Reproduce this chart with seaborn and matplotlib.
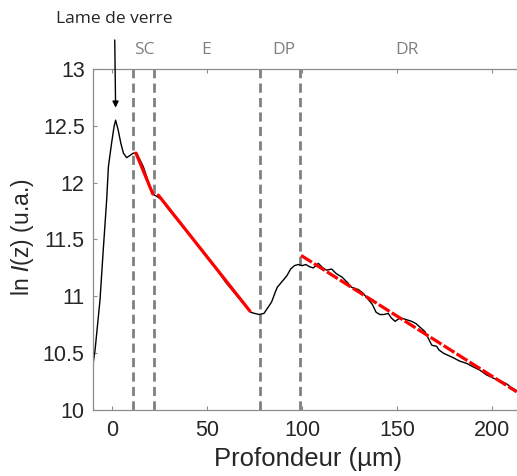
import numpy as np
import pandas as pd
import seaborn as sns
import matplotlib.pyplot as plt
from matplotlib.ticker import FuncFormatter

# Profil ln I(z) en fonction de la profondeur
profondeur = [-10, -8.9, -6.3, -4.6, -2.8, -1.9, -0.2, 1.05, 1.9, 3.3, 4.6, 6, 7.7, 9.5,
              11.2, 13, 16.5, 19.1, 21.4, 23.5, 26.1, 29.6, 35, 40, 45, 50, 55, 60, 65,
              70, 73, 75, 77.5, 80, 82, 84, 86, 87, 89, 90.5, 92, 94, 96, 98, 100, 102,
              104, 106, 108.6, 111, 113, 115.6, 118, 121, 124, 126, 129.6, 132, 135, 137,
              139, 141, 143, 145.4, 147, 149, 151.6, 154, 157.7, 160, 162, 164.7, 166.5,
              168.3, 170.9, 172, 174.4, 177, 179.6, 183, 186.7, 190, 193.7, 197, 200.7,
              204, 207.7, 210, 213]
ln_I = [10.40, 10.53, 10.97, 11.41, 11.85, 12.14, 12.35, 12.49, 12.55, 12.46, 12.35,
        12.26, 12.22, 12.24, 12.26, 12.26, 12.14, 12.01, 11.90, 11.88, 11.85, 11.77,
        11.66, 11.56, 11.45, 11.34, 11.24, 11.12, 11.02, 10.92, 10.86, 10.85, 10.84,
        10.85, 10.90, 10.95, 11.04, 11.08, 11.12, 11.15, 11.18, 11.24, 11.27, 11.28,
        11.27, 11.28, 11.26, 11.25, 11.29, 11.25, 11.23, 11.24, 11.20, 11.17, 11.12,
        11.08, 11.06, 11.03, 10.97, 10.93, 10.86, 10.84, 10.84, 10.85, 10.81, 10.78,
        10.81, 10.80, 10.78, 10.76, 10.73, 10.69, 10.63, 10.57, 10.56, 10.53, 10.50,
        10.48, 10.46, 10.43, 10.41, 10.38, 10.35, 10.31, 10.28, 10.26, 10.23, 10.20,
        10.17]

# Ajustements lineaires (debut, fin) pour SC, E et DR
fit_x = [[12.6, 21.5], [24.4, 72.6], [99.5, 213.0]]
fit_y = [[12.26, 11.90], [11.89, 10.87], [11.36, 10.16]]

# Limites des couches
limites = [11, 22, 78, 99]
couches = ['SC', 'E', 'DP', 'DR']
couches_x = [16.8, 49.8, 90.2, 155]

df = pd.DataFrame({'z': profondeur, 'lnI': ln_I})

sns.set_style('white')
plt.rcParams['font.family'] = ['Liberation Sans', 'DejaVu Sans']

fig = plt.figure(figsize=(5.17, 4.76), dpi=100)
ax = fig.add_axes([93/517, 66/476, 427.5/517, 341/476])

gris = '#8c8c8c'
for xl in limites:
    ax.axvline(xl, color='#808080', lw=2, linestyle=(0, (3.3, 1.9)), zorder=1)

sns.lineplot(data=df, x='z', y='lnI', ax=ax, color='black', lw=1.0, sort=False, zorder=2)

for i, (fx, fy) in enumerate(zip(fit_x, fit_y)):
    style = (0, (4, 0.8)) if i == 2 else '-'
    sns.lineplot(x=fx, y=fy, ax=ax, color='#ff0000', lw=2.3, linestyle=style, zorder=3)

ax.set_xlim(-10, 215)
ax.set_ylim(10, 13)
ax.set_xticks([0, 50, 100, 150, 200])
ax.set_yticks(np.arange(10, 13.01, 0.5))
ax.yaxis.set_major_formatter(FuncFormatter(lambda v, p: f'{v:g}'))
ax.tick_params(direction='in', length=3, color=gris, labelsize=15.5,
               labelcolor='#262626', top=True, bottom=True, left=True, pad=7)
ax.tick_params(axis='y', pad=6)
for s in ax.spines.values():
    s.set_color(gris)
    s.set_linewidth(0.9)
ax.set_xlabel('')
ax.set_ylabel('')

fig.text(308/517, 1 - 459/476, 'Profondeur (µm)', fontsize=18.5, color='#262626',
         ha='center', va='center')
fig.text(22/517, 1 - 237/476, r'ln $\mathit{I}$(z) (u.a.)', fontsize=16.5, color='#262626',
         ha='center', va='center', rotation=90)

for nom, cx in zip(couches, couches_x):
    ax.text(cx, 13.17, nom, color='#808080', fontsize=12.5, ha='center', va='center',
            family=['Open Sans', 'DejaVu Sans'], clip_on=False)

ax.annotate('Lame de verre', xy=(1.9, 12.66), xytext=(1.3, 13.44),
            ha='center', va='center', fontsize=12.5, family=['Open Sans', 'DejaVu Sans'],
            annotation_clip=False,
            arrowprops=dict(arrowstyle='-|>', color='black', lw=1, shrinkA=7, shrinkB=0,
                            mutation_scale=9))

fig.savefig('out.png', dpi=100)
